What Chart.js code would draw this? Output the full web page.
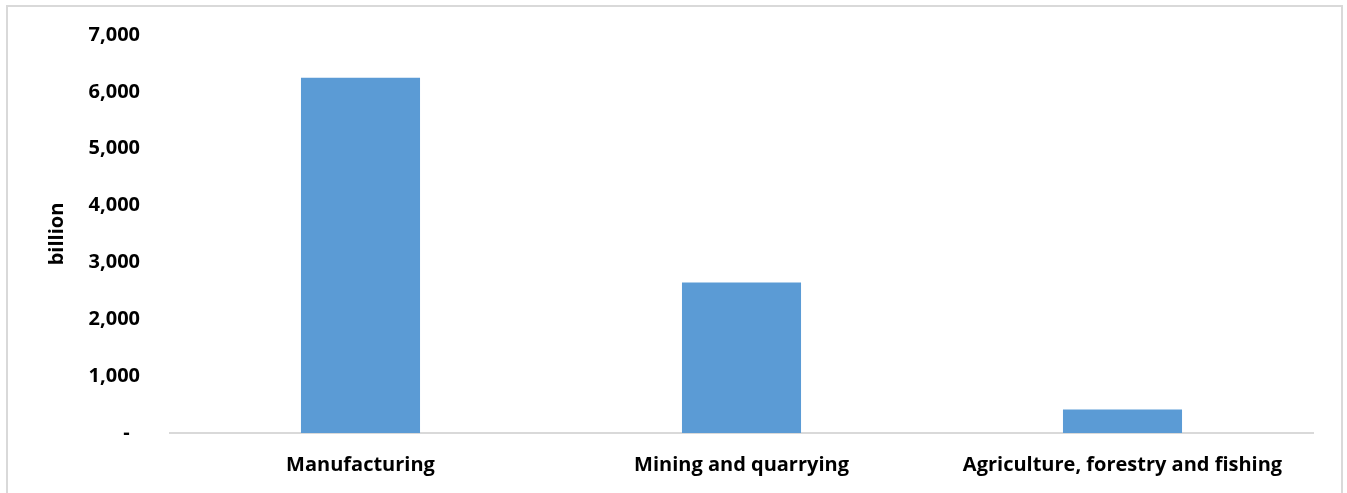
<!DOCTYPE html>
<html>
<head>
<meta charset="utf-8">
<script src="https://cdn.jsdelivr.net/npm/chart.js@4/dist/chart.umd.min.js"></script>
<style>
  html, body { margin: 0; padding: 0; background: #fff; }
  body { width: 1347px; height: 493px; position: relative; overflow: hidden; }
  #frame { position: absolute; left: 6px; top: 5px; width: 1333px; height: 520px; border: 2px solid #D9D9D9; box-sizing: content-box; }
  canvas { position: absolute; left: 0; top: 0; }
</style>
</head>
<body>
<div id="frame"></div>
<canvas id="c" width="1347" height="493"></canvas>
<script>
const categories = ['Manufacturing', 'Mining and quarrying', 'Agriculture, forestry and fishing'];
const values = [6250, 2645, 415];
const yTickLabels = ['-  ', '1,000', '2,000', '3,000', '4,000', '5,000', '6,000', '7,000'];
const yTitle = 'billion';

const FONT = '"Open Sans", "Noto Sans", sans-serif';

new Chart(document.getElementById('c'), {
  type: 'bar',
  data: {
    labels: categories,
    datasets: [{
      data: values,
      backgroundColor: '#5B9BD5',
      borderWidth: 0,
      categoryPercentage: 1,
      barPercentage: 0.3125
    }]
  },
  options: {
    responsive: false,
    animation: false,
    layout: { padding: { left: 0, right: 34, top: 0, bottom: 0 } },
    plugins: { legend: { display: false }, tooltip: { enabled: false } },
    scales: {
      x: {
        grid: { display: false, drawTicks: false },
        border: { display: true, color: '#D9D9D9', width: 2 },
        ticks: { color: '#000', font: { family: FONT, size: 20, weight: 'bold' }, padding: 20, maxRotation: 0 },
        afterFit(s) { s.height = 60; }
      },
      y: {
        min: 0, max: 7000,
        grid: { display: false, drawTicks: false },
        border: { display: false },
        ticks: {
          stepSize: 1000,
          color: '#000',
          font: { family: FONT, size: 20, weight: 'bold' },
          padding: 30,
          callback: (v, i) => yTickLabels[i]
        },
        title: {
          display: true, text: yTitle, color: '#000',
          font: { family: FONT, size: 20, weight: 'bold' },
          padding: { top: 45, bottom: 0 }
        },
        afterFit(s) { s.width = 170; s.paddingTop = 35; }
      }
    }
  }
});
</script>
</body>
</html>
